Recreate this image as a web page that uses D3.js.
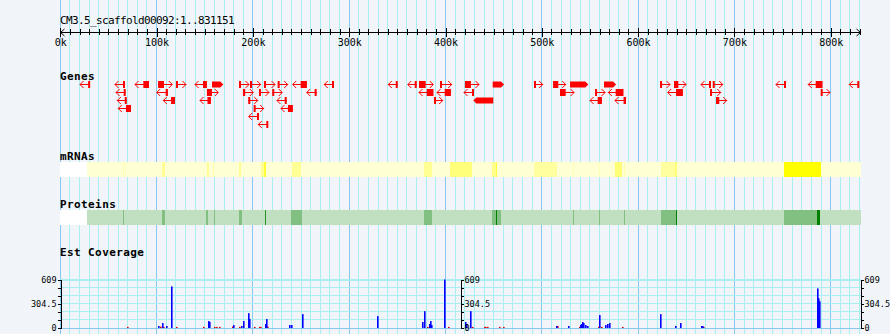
<!DOCTYPE html>
<html>
<head>
<meta charset="utf-8">
<script src="https://cdn.jsdelivr.net/npm/d3@7"></script>
<style>
  html, body { margin: 0; padding: 0; background: #f1f5fa; }
  svg { display: block; }
  text { font-family: "DejaVu Sans Mono", "Liberation Mono", monospace; fill: #000; }
</style>
</head>
<body>
<svg id="chart" width="890" height="334"></svg>
<script>
// ---- data (positions in kb along the scaffold) ----
const seqLength = 831151;
const regionTitle = "CM3.5_scaffold00092:1..831151";
const rulerMajor = [0, 100, 200, 300, 400, 500, 600, 700, 800];
const trackNames = ["Genes", "mRNAs", "Proteins", "Est Coverage"];

// [start, end, strand, row, cdsStart, cdsEnd]
const genes = [
  [20.5, 31.0, -1, 0], [56.8, 67.2, -1, 0], [77.6, 92.1, -1, 0, 86.2, 92.1],
  [101.8, 116.3, 1, 0, 101.8, 107.7], [120.1, 130.5, 1, 0], [139.9, 152.0, -1, 0, 148.2, 152.0],
  [157.5, 169.3, 1, 0, 157.5, 169.3], [185.6, 196.0, 1, 0], [197.0, 208.1, 1, 0, 197.0, 198.5],
  [211.5, 223.0, 1, 0], [225.7, 236.1, 1, 0], [241.3, 255.9, -1, 0, 249.6, 255.9],
  [274.1, 284.2, -1, 0], [340.6, 350.4, -1, 0], [360.8, 370.1, -1, 0],
  [372.5, 387.3, 1, 0, 372.5, 379.4], [394.3, 406.4, 1, 0], [420.2, 434.8, 1, 0, 420.2, 426.4],
  [449.0, 460.8, 1, 0, 449.0, 460.8], [491.9, 500.9, 1, 0], [511.9, 524.8, 1, 0, 511.9, 517.1],
  [529.3, 548.3, 1, 0, 529.3, 548.3], [564.6, 577.1, 1, 0, 564.6, 577.1], [622.8, 633.2, 1, 0],
  [637.3, 649.8, 1, 0, 637.3, 641.8], [665.3, 675.7, -1, 0], [677.5, 687.9, 1, 0],
  [743.2, 753.6, -1, 0], [776.7, 791.3, -1, 0, 784.4, 791.3], [819.3, 829.7, -1, 0],

  [57.9, 67.9, -1, 1], [100.1, 111.5, -1, 1, 109.8, 111.5], [152.3, 164.1, 1, 1, 152.3, 157.5],
  [189.7, 200.4, 1, 1, 189.7, 192.0], [206.3, 216.7, 1, 1], [220.1, 230.5, 1, 1],
  [255.9, 266.2, -1, 1], [372.5, 387.3, -1, 1, 380.5, 387.3], [391.2, 405.4, -1, 1, 399.2, 405.4],
  [419.2, 429.6, -1, 1], [518.9, 533.5, 1, 1, 518.9, 524.8], [555.3, 565.7, 1, 1],
  [569.1, 584.6, -1, 1, 576.7, 584.6], [630.7, 646.3, -1, 1, 639.4, 646.3], [674.7, 685.8, 1, 1],
  [789.6, 799.3, 1, 1],

  [59.2, 69.0, -1, 2], [107.0, 119.1, -1, 2, 115.0, 119.1], [145.1, 156.2, -1, 2, 152.8, 156.2],
  [195.2, 205.0, 1, 2], [225.0, 235.1, -1, 2], [388.1, 397.1, 1, 2],
  [428.9, 449.6, -1, 2, 428.9, 449.6], [550.1, 562.2, -1, 2, 558.0, 562.2],
  [576.0, 587.4, -1, 2, 584.9, 587.4], [680.9, 692.0, 1, 2, 680.9, 684.3],

  [60.2, 73.4, -1, 3, 68.2, 73.4], [200.8, 211.2, 1, 3], [229.2, 241.3, -1, 3, 236.4, 241.3],
  [195.6, 206.3, -1, 4],
  [205.6, 216.0, -1, 5]
];

// density bands: [start, end, intensity 0..1]
const mrnaDensity = [
  [28.0, 831.151, 0], [65.4, 66.4, 0.15], [67.5, 68.5, 0.1], [105.3, 108.7, 0.3],
  [152.0, 154.7, 0.3], [158.9, 159.9, 0.2], [185.6, 187.6, 0.3], [208.4, 213.3, 0.3],
  [211.2, 213.3, 0.75], [240.3, 250.0, 0.3], [377.7, 386.0, 0.3], [404.7, 427.5, 0.42],
  [448.6, 453.2, 0.35], [452.4, 453.8, 0.7], [492.2, 515.8, 0.25], [532.7, 533.7, 0.15],
  [559.7, 560.7, 0.15], [576.0, 583.3, 0.45], [585.4, 586.4, 0.2], [623.8, 638.3, 0.25],
  [638.3, 640.4, 0.45], [751.5, 790.0, 1]
];
const proteinDensity = [
  [28.0, 831.151, 0], [65.4, 66.4, 0.33], [105.3, 108.7, 0.33], [151.3, 153.4, 0.33],
  [159.6, 160.6, 0.33], [185.6, 188.4, 0.33], [212.6, 213.6, 0.8], [239.6, 251.0, 0.33],
  [377.7, 386.0, 0.33], [448.3, 458.0, 0.33], [452.4, 453.5, 1], [532.7, 533.7, 0.33],
  [559.7, 560.7, 0.33], [585.7, 586.7, 0.33], [623.8, 640.1, 0.33], [639.1, 640.4, 1],
  [751.5, 785.8, 0.33], [785.8, 788.9, 1]
];

// EST coverage: [position, depth]
const coverageMax = 609;
const coverageLabels = [0, 304.5, 609];
const estForward = [
  [101.8, 25], [105.9, 62], [110.1, 25], [115.3, 522], [153.7, 87], [154.7, 75],
  [179.6, 37], [188.0, 25], [190.0, 87], [195.2, 186], [196.3, 112], [212.9, 50],
  [213.9, 112], [238.2, 37], [240.3, 37], [251.3, 174], [329.2, 149], [375.9, 75],
  [378.0, 211], [383.2, 50], [384.2, 87], [385.3, 37], [398.8, 609], [420.6, 75],
  [421.6, 50], [425.8, 211], [515.1, 25], [527.5, 25], [540.0, 37], [541.0, 50],
  [542.1, 75], [543.1, 62], [545.2, 37], [547.3, 25], [559.7, 162], [565.9, 37],
  [568.0, 50], [570.1, 62], [623.1, 174], [638.6, 25], [643.8, 62], [665.6, 25],
  [666.7, 25], [786.1, 497], [787.2, 373], [788.2, 335]
];
const estReverse = [
  [69.3, 14], [103.8, 18], [107.4, 14], [120.5, 14], [148.5, 14], [159.9, 14],
  [162.7, 14], [164.8, 14], [178.6, 18], [185.9, 14], [201.5, 14], [206.6, 14],
  [207.7, 14], [215.0, 18], [381.1, 14], [402.9, 14], [427.8, 14], [440.3, 14],
  [441.3, 14], [443.4, 14], [455.9, 14], [460.0, 14], [516.1, 25], [538.9, 14],
  [558.7, 14], [561.8, 14], [583.6, 14], [667.7, 14]
];

// ---- layout ----
const svg = d3.select("#chart");
const W = 890, H = 334;
const x = d3.scaleLinear().domain([0, seqLength]).range([60.3, 860.7]);
const kb = v => x(v * 1000);
const px = v => Math.floor(v) + 0.5;

svg.append("rect").attr("width", W).attr("height", H).attr("fill", "#f1f5fa");

// vertical grid every 10 kb, heavier every 100 kb
const gridTicks = d3.range(0, seqLength + 1, 10000);
svg.append("g").selectAll("line").data(gridTicks).join("line")
  .attr("x1", d => px(x(d))).attr("x2", d => px(x(d)))
  .attr("y1", 0).attr("y2", H)
  .attr("stroke", d => d % 100000 === 0 ? "#88c8ee" : "#a9eef0")
  .attr("stroke-width", 1).attr("shape-rendering", "crispEdges");

// region title
svg.append("text").attr("x", 60).attr("y", 24)
  .style("font-size", "11px").style("letter-spacing", "-0.62px")
  .text(regionTitle);

// ruler
const rulerY = 32;
const ruler = svg.append("g").attr("transform", `translate(0,${rulerY})`);
ruler.append("g")
  .call(d3.axisBottom(x).tickValues(d3.range(0, seqLength, 10000)).tickSize(3).tickFormat(""))
  .call(g => g.select(".domain").remove())
  .call(g => g.selectAll(".tick line").attr("y1", -3).attr("stroke", "#000").attr("shape-rendering", "crispEdges"));
ruler.append("g")
  .call(d3.axisBottom(x).tickValues(rulerMajor.map(d => d * 1000)).tickSize(5).tickFormat(d => d / 1000 + "k"))
  .call(g => g.select(".domain").remove())
  .call(g => g.selectAll(".tick line").attr("y1", -4).attr("stroke", "#000").attr("shape-rendering", "crispEdges"))
  .call(g => g.selectAll(".tick text").attr("y", 14).attr("dy", null)
    .style("font-family", "'DejaVu Sans Mono', monospace").style("font-size", "10px").attr("fill", "#000"));
const x0 = px(x(0)), x1 = px(x(seqLength));
ruler.append("line").attr("x1", x0).attr("x2", x1).attr("y1", 0.5).attr("y2", 0.5)
  .attr("stroke", "#000").attr("shape-rendering", "crispEdges");
ruler.append("path").attr("d", `M${x0 + 4},-3 L${x0},0.5 L${x0 + 4},4 M${x1 - 4},-3 L${x1},0.5 L${x1 - 4},4`)
  .attr("fill", "none").attr("stroke", "#000");

// track labels
const labelY = [80, 160, 207.5, 256];
svg.append("g").selectAll("text").data(trackNames).join("text")
  .attr("x", 60).attr("y", (d, i) => labelY[i])
  .style("font-size", "11px").style("font-weight", "bold").style("letter-spacing", "0.4px")
  .text(d => d);

// genes
const red = "#ff0000";
const rowY = r => 84.5 + r * 8;
const gG = svg.append("g");
genes.forEach(([s, e, strand, row, cs, ce]) => {
  const xs = kb(s), xe = kb(e), y = rowY(row);
  const g = gG.append("g");
  const full = cs !== undefined && cs <= s && ce >= e;
  if (full) {
    const pts = strand > 0
      ? [[xs, y - 3], [xe - 3, y - 3], [xe, y], [xe - 3, y + 3], [xs, y + 3]]
      : [[xe, y - 3], [xs + 3, y - 3], [xs, y], [xs + 3, y + 3], [xe, y + 3]];
    g.append("polygon").attr("points", pts.map(p => p.join(",")).join(" ")).attr("fill", red);
    return;
  }
  g.append("line").attr("x1", xs).attr("x2", xe).attr("y1", y).attr("y2", y)
    .attr("stroke", red).attr("shape-rendering", "crispEdges");
  const tip = strand > 0 ? xe : xs, dir = strand > 0 ? -1 : 1;
  g.append("path").attr("d", `M${tip + dir * 3.5},${y - 3.5} L${tip},${y} L${tip + dir * 3.5},${y + 3.5}`)
    .attr("fill", "none").attr("stroke", red).attr("stroke-width", 1);
  const tail = strand > 0 ? xs : xe;
  g.append("rect").attr("x", strand > 0 ? tail : tail - 2).attr("y", y - 3.5)
    .attr("width", 2).attr("height", 7).attr("fill", red);
  if (cs !== undefined) {
    g.append("rect").attr("x", kb(cs)).attr("y", y - 3.5)
      .attr("width", Math.max(1, kb(ce) - kb(cs))).attr("height", 7).attr("fill", red);
  }
});

// density tracks
function densityBand(data, y, h, lo, hi) {
  const col = d3.interpolateRgb(lo, hi);
  const g = svg.append("g");
  g.append("rect").attr("x", x(0)).attr("y", y).attr("width", x(seqLength) - x(0)).attr("height", h)
    .attr("fill", "#ffffff").attr("shape-rendering", "crispEdges");
  g.selectAll("rect.seg").data(data).join("rect").attr("class", "seg")
    .attr("x", d => kb(d[0])).attr("width", d => kb(d[1]) - kb(d[0]))
    .attr("y", y).attr("height", h)
    .attr("fill", d => col(d[2])).attr("shape-rendering", "crispEdges");
}
densityBand(mrnaDensity, 162, 15, "#ffffd4", "#ffff00");
densityBand(proteinDensity, 210, 15, "#c1e0c1", "#008000");

// EST coverage
const y = d3.scaleLinear().domain([0, coverageMax]).range([328, 279.5]);
const covTicks = d3.range(0, 7).map(i => coverageMax * i / 6);
svg.append("g").selectAll("line").data(covTicks).join("line")
  .attr("x1", x(0)).attr("x2", x(seqLength))
  .attr("y1", d => d === coverageMax ? 279.5 : px(y(d))).attr("y2", d => d === coverageMax ? 279.5 : px(y(d)))
  .attr("stroke", d => d === 0 ? "#88c8ee" : "#a9eef0")
  .attr("stroke-width", d => d === coverageMax ? 2 : 1)
  .attr("shape-rendering", "crispEdges");

svg.append("g").selectAll("rect").data(estReverse).join("rect")
  .attr("x", d => Math.floor(kb(d[0]))).attr("width", 1.6)
  .attr("y", d => y(d[1])).attr("height", d => y(0) - y(d[1]))
  .attr("fill", "#e00000");
svg.append("g").selectAll("rect").data(estForward).join("rect")
  .attr("x", d => Math.floor(kb(d[0]))).attr("width", 1.6)
  .attr("y", d => y(d[1])).attr("height", d => y(0) - y(d[1]))
  .attr("fill", "#0000ff");

const fmt = d => coverageLabels.includes(d) ? String(d) : "";
function covAxis(axis, xPos) {
  svg.append("g").attr("transform", `translate(${px(xPos)},0)`)
    .call(axis.tickValues(covTicks).tickSize(3).tickPadding(1).tickFormat(fmt))
    .call(g => g.select(".domain").attr("stroke", "#000").attr("shape-rendering", "crispEdges"))
    .call(g => g.selectAll(".tick line").attr("stroke", "#000").attr("shape-rendering", "crispEdges"))
    .call(g => g.selectAll(".tick text").style("font-family", "'DejaVu Sans Mono', monospace")
      .style("font-size", "8.5px").attr("fill", "#000"));
}
covAxis(d3.axisLeft(y), x(0));
covAxis(d3.axisRight(y), x(seqLength / 2));
covAxis(d3.axisRight(y), x(seqLength));
</script>
</body>
</html>
